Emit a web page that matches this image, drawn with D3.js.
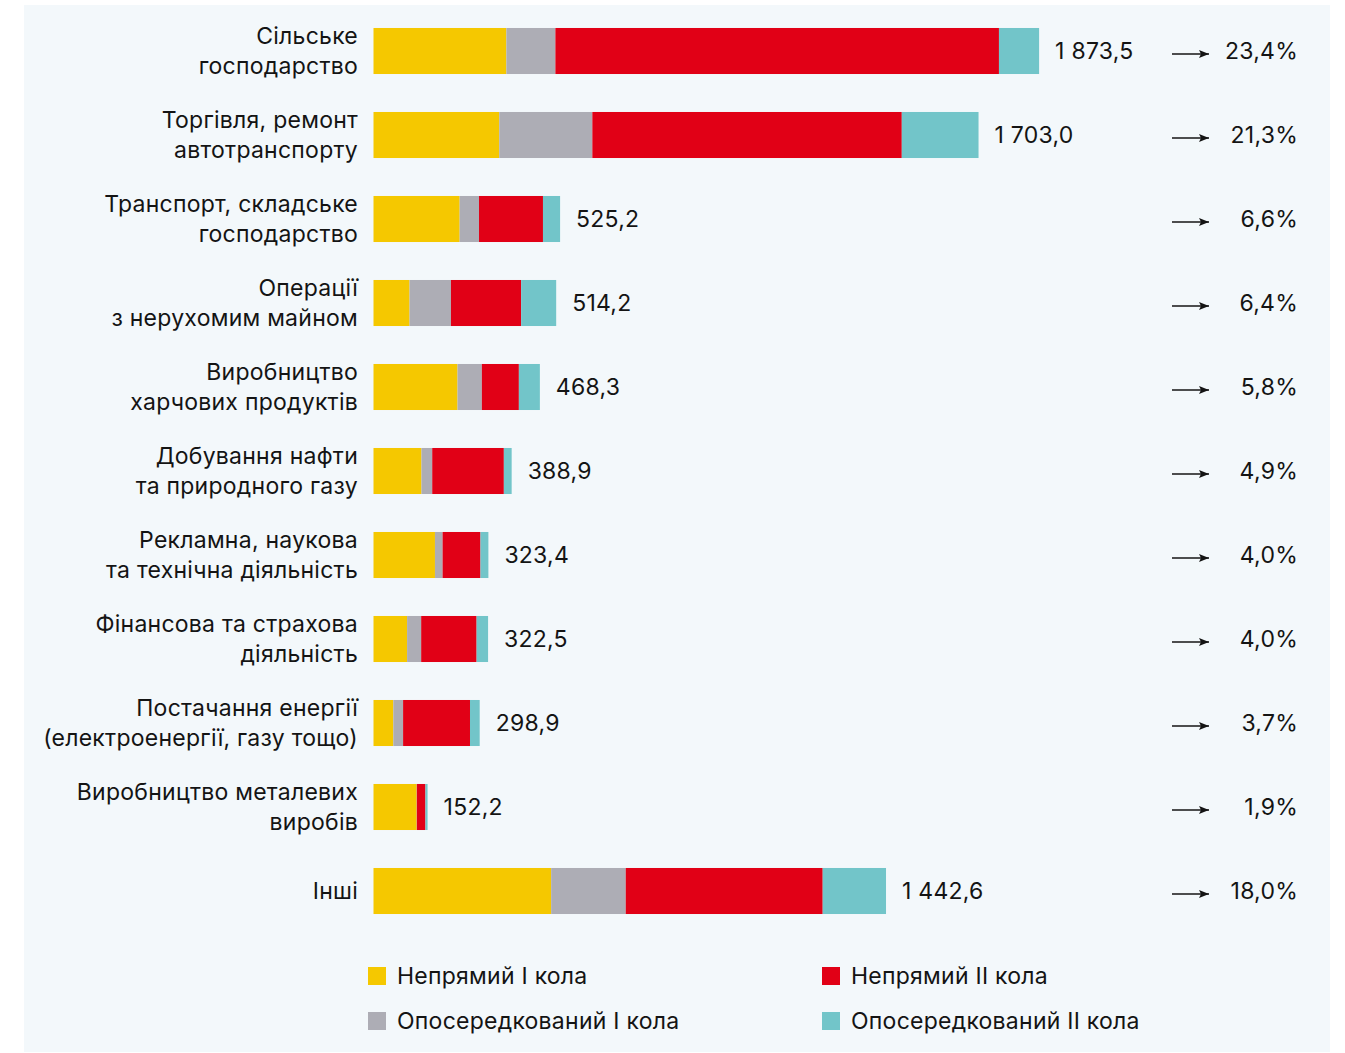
<!DOCTYPE html>
<html>
<head>
<meta charset="utf-8">
<title>Galuzi</title>
<script src="https://cdnjs.cloudflare.com/ajax/libs/d3/7.8.5/d3.min.js"></script>
<style>
  body { margin: 0; background: #fff; }
  svg text { font-family: Inter, "Noto Sans", sans-serif; fill: #141414; letter-spacing: 0.25px; }
</style>
</head>
<body>
<svg id="chart" width="1345" height="1053"></svg>
<script>
// categories (two lines each)
var categories = [
  ["Сільське", "господарство"],
  ["Торгівля, ремонт", "автотранспорту"],
  ["Транспорт, складське", "господарство"],
  ["Операції", "з нерухомим майном"],
  ["Виробництво", "харчових продуктів"],
  ["Добування нафти", "та природного газу"],
  ["Рекламна, наукова", "та технічна діяльність"],
  ["Фінансова та страхова", "діяльність"],
  ["Постачання енергії", "(електроенергії, газу тощо)"],
  ["Виробництво металевих", "виробів"],
  ["Інші"]
];

var seriesNames = ["Непрямий I кола", "Опосередкований I кола", "Непрямий II кола", "Опосередкований II кола"];

var indirect1 = [374, 354, 242.5, 101.5, 236.5, 135, 173, 94.5, 55.8, 121.5, 500];
var mediated1 = [138, 262, 54.5, 116.5, 68.5, 30.3, 21.5, 39.7, 27.5, 0.5, 210];
var indirect2 = [1248.5, 871, 180, 197.5, 104.2, 201.6, 106.6, 156, 188.3, 24.2, 554.4];
var mediated2 = [113, 216, 48.2, 98.7, 59.1, 22, 22.3, 32.3, 27.3, 6, 178.2];

var totals = [1873.5, 1703.0, 525.2, 514.2, 468.3, 388.9, 323.4, 322.5, 298.9, 152.2, 1442.6];
var shares = [23.4, 21.3, 6.6, 6.4, 5.8, 4.9, 4.0, 4.0, 3.7, 1.9, 18.0];

var colors = ["#f5c800", "#adadb5", "#e10016", "#72c5c9"];

var svg = d3.select("#chart");

// panel
svg.append("rect")
  .attr("x", 24).attr("y", 5)
  .attr("width", 1306).attr("height", 1047)
  .attr("fill", "#f3f8fb");

var x0 = 373.5;
var x = d3.scaleLinear().domain([0, 1873.5]).range([0, 665.6]);
var y = d3.scaleBand()
  .domain(d3.range(categories.length))
  .range([9, 933])
  .paddingInner(0.452)
  .paddingOuter(0.226);

var rows = categories.map(function(c, i) {
  return { i: i, vals: [indirect1[i], mediated1[i], indirect2[i], mediated2[i]] };
});
var stacked = d3.stack().keys([0, 1, 2, 3]).value(function(d, k) { return d.vals[k]; })(rows);

var uk = d3.formatLocale({ decimal: ",", thousands: "\u00a0", grouping: [3], currency: ["", ""] });
var fmt = uk.format(",.1f");

svg.append("g").selectAll("g")
  .data(stacked)
  .join("g")
  .attr("fill", function(d, k) { return colors[k]; })
  .selectAll("rect")
  .data(function(d) { return d; })
  .join("rect")
  .attr("x", function(d) { return x0 + x(d[0]); })
  .attr("width", function(d) { return x(d[1]) - x(d[0]); })
  .attr("y", function(d) { return y(d.data.i); })
  .attr("height", y.bandwidth());

// category labels
var lab = svg.append("g").selectAll("text")
  .data(categories)
  .join("text")
  .attr("text-anchor", "end")
  .attr("font-size", 23)
  .attr("x", 358)
  .attr("y", function(d, i) { return y(i) + y.bandwidth() / 2; });
lab.selectAll("tspan")
  .data(function(d) { return d.map(function(t, j) { return { t: t, j: j, n: d.length }; }); })
  .join("tspan")
  .attr("x", 358)
  .attr("dy", function(d) {
    if (d.n == 1) return "0.35em";
    return d.j == 0 ? "-0.3em" : "1.3em";
  })
  .text(function(d) { return d.t; });

// totals
svg.append("g").selectAll("text")
  .data(totals)
  .join("text")
  .attr("font-size", 23)
  .attr("x", function(d) { return x0 + x(d) + 16; })
  .attr("y", function(d, i) { return y(i) + y.bandwidth() / 2; })
  .attr("dy", "0.35em")
  .text(function(d) { return fmt(d); });

// arrows + shares
svg.append("defs").append("marker")
  .attr("id", "arr")
  .attr("viewBox", "0 0 10 10")
  .attr("refX", 10).attr("refY", 5)
  .attr("markerWidth", 14).attr("markerHeight", 10)
  .attr("markerUnits", "userSpaceOnUse")
  .attr("orient", "auto")
  .append("path").attr("d", "M0,1L10,5L0,9L2,5Z").attr("fill", "#141414");

svg.append("g").selectAll("line")
  .data(shares)
  .join("line")
  .attr("x1", 1172).attr("x2", 1209)
  .attr("y1", function(d, i) { return y(i) + y.bandwidth() / 2 + 3; })
  .attr("y2", function(d, i) { return y(i) + y.bandwidth() / 2 + 3; })
  .attr("stroke", "#141414").attr("stroke-width", 1.3)
  .attr("marker-end", "url(#arr)");

svg.append("g").selectAll("text")
  .data(shares)
  .join("text")
  .attr("font-size", 23)
  .attr("text-anchor", "end")
  .attr("x", 1298)
  .attr("y", function(d, i) { return y(i) + y.bandwidth() / 2; })
  .attr("dy", "0.35em")
  .text(function(d) { return uk.format(".1f")(d) + "%"; });

// legend
var legPos = [[368, 967], [368, 1012], [822, 967], [822, 1012]];
var leg = svg.append("g").selectAll("g")
  .data(seriesNames)
  .join("g")
  .attr("transform", function(d, k) { return "translate(" + legPos[k][0] + "," + legPos[k][1] + ")"; });
leg.append("rect").attr("width", 18).attr("height", 18)
  .attr("fill", function(d, k) { return colors[k]; });
leg.append("text").attr("x", 29).attr("y", 9).attr("dy", "0.35em")
  .attr("font-size", 23)
  .text(function(d) { return d; });
</script>
</body>
</html>
